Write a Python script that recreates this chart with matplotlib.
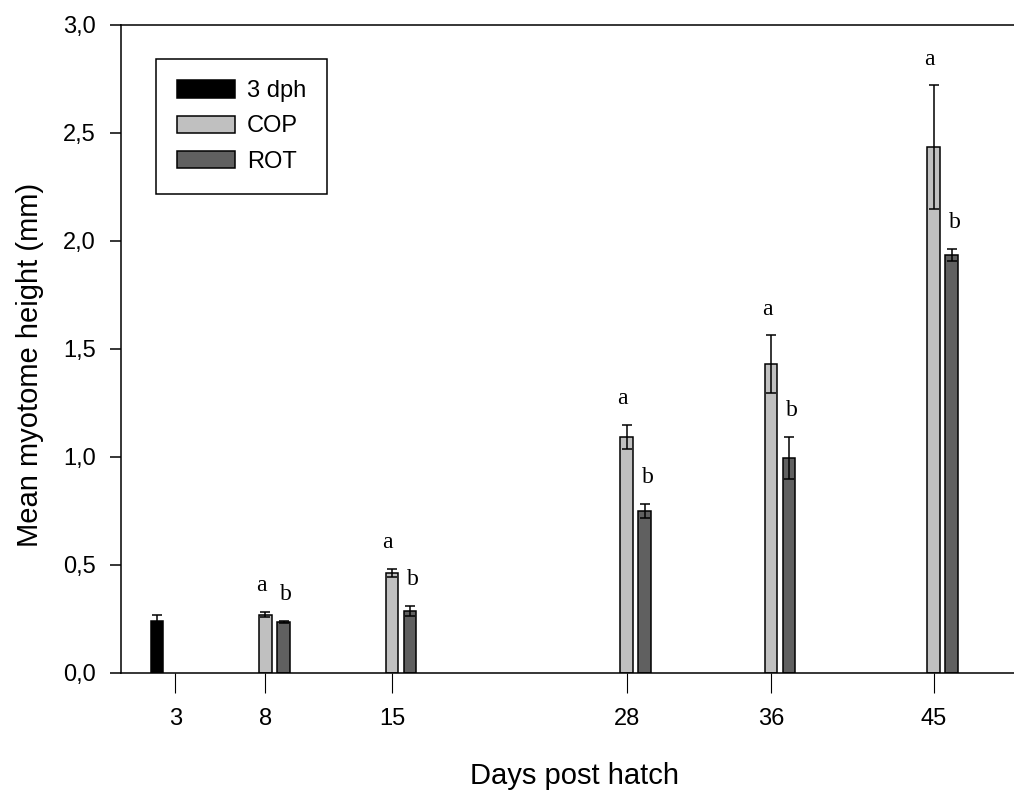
#Mean myotome height per day post hatch, COP vs ROT fed larvae
import matplotlib.pyplot as plt
import numpy as np

plt.rcParams['font.family'] = ['Liberation Sans', 'DejaVu Sans']

#data
day_ticks = [3, 8, 15, 28, 36, 45]
day_labels = ['3', '8', '15', '28', '36', '45']

dph_days = [3]
dph_mean = [0.24]
dph_err = [0.03]

cop_days = [8, 15, 28, 36, 45]
cop_mean = [0.27, 0.463, 1.093, 1.43, 2.435]
cop_err = [0.012, 0.02, 0.057, 0.133, 0.285]
cop_letters = ['a', 'a', 'a', 'a', 'a']

rot_days = [8, 15, 28, 36, 45]
rot_mean = [0.235, 0.287, 0.75, 0.997, 1.935]
rot_err = [0.005, 0.023, 0.031, 0.097, 0.028]
rot_letters = ['b', 'b', 'b', 'b', 'b']

y_ticks = [0.0, 0.5, 1.0, 1.5, 2.0, 2.5, 3.0]

bar_w = 0.7
lw = 1.1

fig = plt.figure(figsize=(10.14, 7.91), dpi=100)
ax = fig.add_axes([121/1014, 118/791, (1014-121)/1014, 648/791])

#bars, 3 dph shifted left, ROT shifted right
x_dph = np.array(dph_days) - 1
x_cop = np.array(cop_days)
x_rot = np.array(rot_days) + 1
ax.bar(x_dph, dph_mean, bar_w, color='black', edgecolor='black', linewidth=lw, label='3 dph', zorder=2)
ax.bar(x_cop, cop_mean, bar_w, color='#c0c0c0', edgecolor='black', linewidth=lw, label='COP', zorder=2)
ax.bar(x_rot, rot_mean, bar_w, color='#606060', edgecolor='black', linewidth=lw, label='ROT', zorder=2)

#error bars
for xs, m, e in [(x_dph, dph_mean, dph_err), (x_cop, cop_mean, cop_err), (x_rot, rot_mean, rot_err)]:
	ax.errorbar(xs, m, yerr=e, fmt='none', ecolor='black', elinewidth=lw, capsize=3.5, capthick=lw, zorder=3)

#significance letters
for xs, m, e, lets, dx in [(x_cop, cop_mean, cop_err, cop_letters, -3), (x_rot, rot_mean, rot_err, rot_letters, 2)]:
	for x, mv, ev, l in zip(xs, m, e, lets):
		ax.annotate(l, (x, mv + ev), xytext=(dx, 19), textcoords='offset points',
			ha='center', va='center', fontsize=17, family=['Liberation Serif', 'DejaVu Serif'])

ax.set_xlim(0, 49.45)
ax.set_ylim(0, 3.0)
ax.set_xticks(day_ticks)
ax.set_xticklabels(day_labels)
ax.set_yticks(y_ticks)
ax.set_yticklabels([('%.1f' % v).replace('.', ',') for v in y_ticks])
ax.tick_params(axis='y', direction='out', length=8, width=lw, pad=10, labelsize=17)
ax.tick_params(axis='x', direction='out', length=14.4, width=0.8, pad=11, labelsize=17)

ax.spines['right'].set_visible(False)
for s in ['left', 'top', 'bottom']:
	ax.spines[s].set_linewidth(lw)

fig.text(574/1014, 1-776/791, 'Days post hatch', ha='center', va='center', fontsize=21)
fig.text(30/1014, 1-365/791, 'Mean myotome height (mm)', ha='center', va='center', rotation=90, fontsize=21)

leg = ax.legend(loc='upper left', bbox_to_anchor=(156/1014, 1-59/791), bbox_transform=fig.transFigure,
	frameon=True, fancybox=False, edgecolor='black', fontsize=17, handlelength=2.45, handleheight=0.75,
	labelspacing=0.56, borderpad=0.9, handletextpad=0.5, borderaxespad=0)
leg.get_frame().set_linewidth(lw)
leg.get_frame().set_alpha(1)

fig.savefig('out.png', dpi=100)
